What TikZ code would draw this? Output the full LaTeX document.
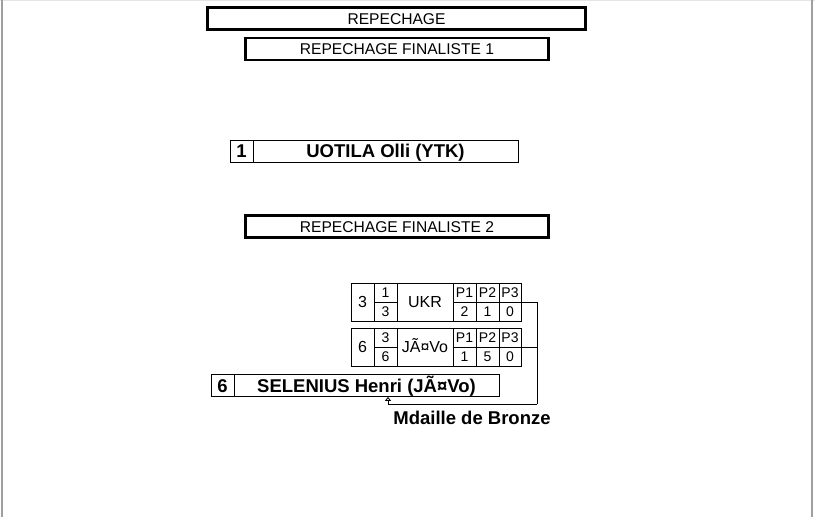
\documentclass[tikz,border=0pt]{standalone}
\usepackage{fontspec}
\setmainfont{Liberation Sans}
\usetikzlibrary{positioning,arrows.meta}

\begin{document}
\begin{tikzpicture}[x=1pt,y=-1pt]
\tikzstyle{every node}+=[inner sep=0pt,text depth=0pt]
\tikzstyle{titlebox}=[draw,line width=2.2pt,minimum width=303pt,minimum height=22pt,text height=11.2pt,font=\fontsize{15.6}{15.6}\selectfont]
\tikzstyle{namebox}=[draw,line width=0.8pt,minimum height=22pt,text height=13.2pt,font=\fontsize{18.5}{18.5}\selectfont\bfseries]
\tikzstyle{cell}=[draw,line width=0.8pt,minimum width=23pt,minimum height=19pt,text height=10pt,font=\fontsize{14}{14}\selectfont]
\tikzstyle{bigcell}=[cell,minimum height=38pt,text height=11.5pt,font=\fontsize{16}{16}\selectfont]
\useasboundingbox (0,0) rectangle (815,517);
\draw [gray!20] (0,0.5) -- (815,0.5);
\draw [gray!75,line width=2pt] (2,0) -- (2,517);
\draw [gray!75,line width=2pt] (812,0) -- (812,517);
% titres
\node [titlebox,minimum width=378pt] (rep) at (396.5,18.5) {REPECHAGE};
\node [titlebox] (fin1) at (397,49) {REPECHAGE FINALISTE 1};
\node [titlebox] (fin2) at (397,226.5) {REPECHAGE FINALISTE 2};
% finaliste 1
\node [namebox,minimum width=23pt] (r1) at (241.5,151) {1};
\node [namebox,minimum width=265pt] (n1) at (385.5,151) {UOTILA Olli (YTK)};
% match UKR
\node [bigcell] (t1s) at (362.5,302) {3};
\node [cell] (t1a) at (385.5,292.5) {1};
\node [cell] (t1b) at (385.5,311.5) {3};
\node [bigcell,minimum width=56pt] (t1c) at (425,302) {UKR};
\node [cell] (t1p1a) at (464.5,292.5) {P1};
\node [cell] (t1p2a) at (487.5,292.5) {P2};
\node [cell,minimum width=22pt] (t1p3a) at (510,292.5) {P3};
\node [cell] (t1p1b) at (464.5,311.5) {2};
\node [cell] (t1p2b) at (487.5,311.5) {1};
\node [cell,minimum width=22pt] (t1p3b) at (510,311.5) {0};
% match JÃ¤Vo
\node [bigcell] (t2s) at (362.5,347) {6};
\node [cell] (t2a) at (385.5,337.5) {3};
\node [cell] (t2b) at (385.5,356.5) {6};
\node [bigcell,minimum width=56pt] (t2c) at (425,347) {JÃ¤Vo};
\node [cell] (t2p1a) at (464.5,337.5) {P1};
\node [cell] (t2p2a) at (487.5,337.5) {P2};
\node [cell,minimum width=22pt] (t2p3a) at (510,337.5) {P3};
\node [cell] (t2p1b) at (464.5,356.5) {1};
\node [cell] (t2p2b) at (487.5,356.5) {5};
\node [cell,minimum width=22pt] (t2p3b) at (510,356.5) {0};
% finaliste 2
\node [namebox,minimum width=23pt] (r6) at (222.5,385.5) {6};
\node [namebox,minimum width=265pt] (n6) at (366.5,385.5) {SELENIUS Henri (JÃ¤Vo)};
% liaison
\coordinate (j) at (537,404);
\coordinate (m) at (388,404);
\draw [line width=0.8pt] (t1p3a.south east) -| (j);
\draw [line width=0.8pt] (t2p3a.south east) -- (t2p3a.south east -| j);
\draw [line width=0.8pt,-{Triangle[open,length=4pt,width=6pt]}] (j) -- (m) -- (n6.south -| m);
\node [font=\fontsize{18.5}{18.5}\selectfont\bfseries,text height=13.2pt] (medal) at (472,418) {Mdaille de Bronze};
\end{tikzpicture}
\end{document}
